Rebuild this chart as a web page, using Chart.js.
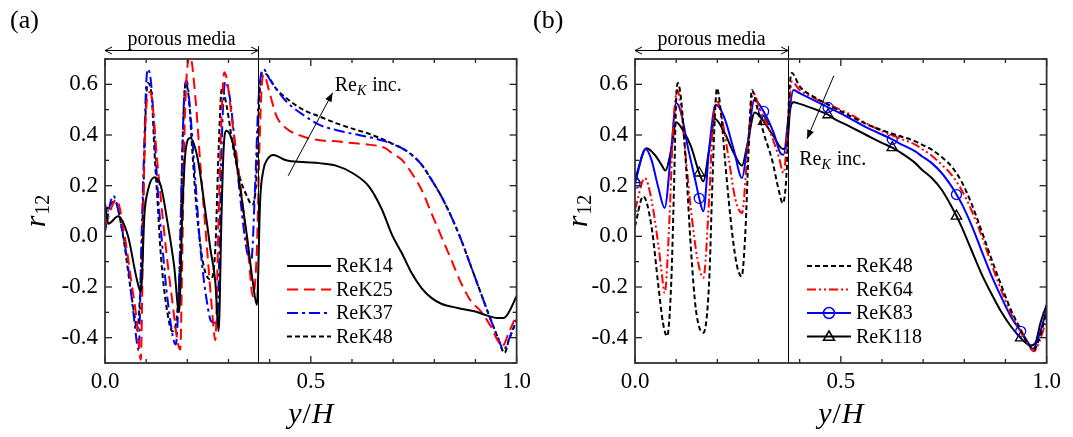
<!DOCTYPE html>
<html><head><meta charset="utf-8">
<script src="https://cdn.jsdelivr.net/npm/chart.js@4/dist/chart.umd.min.js"></script>
<style>
html,body{margin:0;padding:0;background:#fff;}
#wrap{position:relative;width:1073px;height:437px;overflow:hidden;background:#fff;}
canvas{position:absolute;top:0;}
</style></head><body>
<div id="wrap">
<canvas id="ca" width="536" height="437" style="left:0px"></canvas>
<canvas id="cb" width="536" height="437" style="left:530px"></canvas>
</div>
<script>
// ---------- data (y/H, r12) ----------
const xTicks = [0, 0.5, 1.0];
const yTicks = [-0.4, -0.2, 0.0, 0.2, 0.4, 0.6];
const INTERFACE_X = 0.372;
const MARK_X = [0, 0.156, 0.3125, 0.469, 0.625, 0.781, 0.937];

// panel (a)
const a_ReK14 = [[0,0.13],[0.008,0.05],[0.032,0.079],[0.056,0.0],[0.076,-0.16],[0.087,-0.22],[0.096,0.09],[0.104,0.18],[0.12,0.233],[0.136,0.197],[0.152,0.053],[0.168,-0.118],[0.18,-0.30],[0.188,0.105],[0.196,0.34],[0.207,0.388],[0.224,0.316],[0.24,0.145],[0.256,-0.05],[0.268,-0.18],[0.276,-0.375],[0.283,0.08],[0.288,0.34],[0.295,0.417],[0.3125,0.355],[0.329,0.184],[0.345,0.0],[0.359,-0.18],[0.369,-0.27],[0.377,0.145],[0.385,0.263],[0.393,0.30],[0.409,0.321],[0.44,0.30],[0.481,0.293],[0.521,0.289],[0.561,0.279],[0.601,0.25],[0.641,0.197],[0.673,0.105],[0.697,0.007],[0.721,-0.066],[0.745,-0.145],[0.769,-0.204],[0.793,-0.243],[0.817,-0.266],[0.857,-0.283],[0.897,-0.296],[0.929,-0.313],[0.953,-0.322],[0.969,-0.322],[0.981,-0.30],[1.0,-0.235]];
const a_ReK25 = [[0,0.04],[0.028,0.145],[0.048,0.0],[0.064,-0.18],[0.076,-0.316],[0.087,-0.487],[0.092,-0.05],[0.096,0.34],[0.103,0.55],[0.11,0.57],[0.128,0.276],[0.144,0.013],[0.16,-0.21],[0.183,-0.447],[0.188,-0.05],[0.194,0.47],[0.207,0.71],[0.22,0.54],[0.232,0.276],[0.248,-0.05],[0.26,-0.29],[0.268,-0.41],[0.276,0.08],[0.283,0.47],[0.29,0.648],[0.3125,0.41],[0.333,0.145],[0.349,-0.08],[0.359,-0.237],[0.369,-0.05],[0.375,0.34],[0.381,0.6],[0.386,0.638],[0.4,0.565],[0.417,0.473],[0.44,0.427],[0.481,0.394],[0.521,0.379],[0.561,0.375],[0.601,0.368],[0.641,0.362],[0.681,0.348],[0.697,0.329],[0.721,0.302],[0.745,0.25],[0.769,0.184],[0.793,0.092],[0.817,0.0],[0.841,-0.092],[0.865,-0.184],[0.889,-0.256],[0.913,-0.296],[0.937,-0.355],[0.953,-0.408],[0.965,-0.434],[0.981,-0.38],[1.0,-0.31]];
const a_ReK37 = [[0,0.02],[0.02,0.16],[0.04,0.04],[0.056,-0.118],[0.07,-0.316],[0.082,-0.45],[0.088,-0.05],[0.095,0.34],[0.1,0.6],[0.104,0.66],[0.112,0.605],[0.12,0.41],[0.128,0.184],[0.14,-0.05],[0.152,-0.25],[0.172,-0.427],[0.18,-0.18],[0.186,0.21],[0.192,0.54],[0.198,0.615],[0.208,0.473],[0.22,0.21],[0.232,-0.05],[0.248,-0.263],[0.258,-0.335],[0.272,-0.342],[0.278,-0.05],[0.283,0.34],[0.292,0.61],[0.304,0.54],[0.317,0.34],[0.329,0.145],[0.345,-0.06],[0.355,-0.1],[0.365,0.21],[0.373,0.54],[0.385,0.66],[0.4,0.62],[0.417,0.58],[0.44,0.533],[0.481,0.48],[0.521,0.44],[0.561,0.42],[0.601,0.405],[0.641,0.392],[0.681,0.375],[0.697,0.366],[0.721,0.348],[0.745,0.322],[0.769,0.283],[0.793,0.224],[0.817,0.158],[0.841,0.079],[0.865,-0.013],[0.889,-0.118],[0.913,-0.224],[0.937,-0.329],[0.953,-0.394],[0.969,-0.447],[0.981,-0.408],[1.0,-0.33]];
const a_ReK48 = [[0,0.1],[0.024,0.138],[0.044,0.0],[0.06,-0.184],[0.072,-0.316],[0.078,-0.37],[0.088,-0.118],[0.095,0.276],[0.1,0.54],[0.104,0.605],[0.114,0.54],[0.12,0.34],[0.128,0.13],[0.136,-0.08],[0.148,-0.263],[0.164,-0.375],[0.176,-0.29],[0.183,-0.05],[0.188,0.34],[0.196,0.605],[0.204,0.54],[0.212,0.34],[0.224,0.079],[0.24,-0.118],[0.256,-0.17],[0.268,-0.05],[0.276,0.34],[0.284,0.585],[0.296,0.51],[0.3125,0.34],[0.329,0.224],[0.345,0.158],[0.357,0.125],[0.367,0.21],[0.373,0.473],[0.38,0.64],[0.386,0.645],[0.417,0.58],[0.44,0.546],[0.481,0.5],[0.521,0.473],[0.561,0.447],[0.601,0.425],[0.641,0.405],[0.681,0.379],[0.697,0.366],[0.721,0.348],[0.745,0.322],[0.769,0.283],[0.793,0.224],[0.817,0.158],[0.841,0.079],[0.865,-0.013],[0.889,-0.118],[0.913,-0.224],[0.937,-0.329],[0.953,-0.394],[0.971,-0.46],[0.981,-0.41],[1.0,-0.33]];

// panel (b)
const b_ReK48 = [[0,0.04],[0.02,0.158],[0.04,0.04],[0.056,-0.184],[0.068,-0.342],[0.078,-0.394],[0.088,-0.184],[0.095,0.21],[0.1,0.54],[0.104,0.605],[0.112,0.54],[0.124,0.276],[0.136,-0.053],[0.148,-0.29],[0.166,-0.381],[0.18,-0.184],[0.188,0.21],[0.194,0.473],[0.199,0.585],[0.208,0.5],[0.22,0.276],[0.236,0.013],[0.248,-0.118],[0.259,-0.158],[0.268,0.013],[0.276,0.342],[0.284,0.578],[0.296,0.513],[0.3125,0.408],[0.333,0.302],[0.349,0.184],[0.359,0.131],[0.369,0.276],[0.374,0.54],[0.381,0.645],[0.4,0.592],[0.44,0.546],[0.481,0.51],[0.521,0.476],[0.561,0.444],[0.601,0.418],[0.641,0.397],[0.681,0.375],[0.697,0.362],[0.721,0.342],[0.745,0.313],[0.769,0.276],[0.793,0.217],[0.817,0.131],[0.841,0.026],[0.865,-0.085],[0.889,-0.19],[0.913,-0.289],[0.937,-0.368],[0.953,-0.418],[0.969,-0.447],[0.981,-0.408],[1.0,-0.3]];
const b_ReK64 = [[0,0.105],[0.024,0.23],[0.04,0.145],[0.056,-0.026],[0.064,-0.131],[0.072,-0.224],[0.084,0.079],[0.092,0.408],[0.103,0.578],[0.112,0.5],[0.124,0.302],[0.136,0.105],[0.152,-0.092],[0.166,-0.164],[0.18,0.145],[0.188,0.408],[0.198,0.539],[0.212,0.46],[0.228,0.302],[0.244,0.145],[0.26,0.092],[0.272,0.302],[0.287,0.565],[0.304,0.5],[0.329,0.408],[0.349,0.316],[0.361,0.25],[0.373,0.473],[0.381,0.611],[0.4,0.578],[0.44,0.542],[0.481,0.513],[0.521,0.483],[0.561,0.447],[0.601,0.414],[0.641,0.388],[0.681,0.362],[0.697,0.345],[0.721,0.318],[0.745,0.283],[0.769,0.243],[0.793,0.184],[0.817,0.105],[0.841,0.007],[0.865,-0.105],[0.889,-0.21],[0.913,-0.302],[0.937,-0.375],[0.953,-0.421],[0.969,-0.454],[0.981,-0.421],[1.0,-0.33]];
const b_ReK83 = [[0,0.21],[0.026,0.345],[0.04,0.302],[0.056,0.197],[0.072,0.112],[0.088,0.342],[0.1,0.526],[0.112,0.487],[0.128,0.355],[0.148,0.21],[0.156,0.15],[0.166,0.099],[0.18,0.342],[0.196,0.519],[0.216,0.473],[0.24,0.342],[0.26,0.23],[0.272,0.342],[0.29,0.539],[0.3125,0.493],[0.337,0.408],[0.353,0.329],[0.361,0.322],[0.373,0.473],[0.385,0.578],[0.4,0.565],[0.44,0.533],[0.469,0.509],[0.481,0.5],[0.521,0.467],[0.561,0.431],[0.601,0.401],[0.625,0.383],[0.641,0.368],[0.681,0.335],[0.697,0.316],[0.721,0.289],[0.745,0.25],[0.769,0.197],[0.781,0.165],[0.793,0.131],[0.817,0.046],[0.841,-0.053],[0.865,-0.151],[0.889,-0.237],[0.913,-0.316],[0.937,-0.375],[0.953,-0.414],[0.967,-0.444],[0.981,-0.394],[1.0,-0.29]];
const b_ReK118 = [[0,0.224],[0.028,0.348],[0.048,0.322],[0.064,0.283],[0.074,0.26],[0.088,0.342],[0.1,0.45],[0.116,0.42],[0.136,0.355],[0.156,0.25],[0.166,0.217],[0.18,0.342],[0.194,0.463],[0.216,0.414],[0.24,0.329],[0.26,0.279],[0.272,0.355],[0.291,0.489],[0.3125,0.454],[0.337,0.394],[0.359,0.345],[0.369,0.355],[0.377,0.5],[0.385,0.529],[0.4,0.523],[0.44,0.5],[0.469,0.48],[0.481,0.467],[0.521,0.434],[0.561,0.401],[0.601,0.368],[0.625,0.35],[0.641,0.335],[0.681,0.289],[0.697,0.263],[0.721,0.23],[0.745,0.184],[0.769,0.118],[0.781,0.08],[0.793,0.039],[0.817,-0.053],[0.841,-0.145],[0.865,-0.224],[0.889,-0.296],[0.913,-0.355],[0.937,-0.401],[0.961,-0.431],[0.973,-0.42],[0.985,-0.342],[1.0,-0.27]];

// ---------- drawing ----------
const FONT = '"Liberation Serif"';

function line(ctx, x1, y1, x2, y2) { ctx.beginPath(); ctx.moveTo(x1, y1); ctx.lineTo(x2, y2); ctx.stroke(); }

function filledHead(ctx, x1, y1, x2, y2, len, half) {
  const ang = Math.atan2(y2 - y1, x2 - x1);
  ctx.beginPath();
  ctx.moveTo(x2, y2);
  ctx.lineTo(x2 - len * Math.cos(ang) + half * Math.sin(ang), y2 - len * Math.sin(ang) - half * Math.cos(ang));
  ctx.lineTo(x2 - len * Math.cos(ang) - half * Math.sin(ang), y2 - len * Math.sin(ang) + half * Math.cos(ang));
  ctx.closePath(); ctx.fill();
}
function openHead(ctx, x1, y1, x2, y2, len, half) {
  const ang = Math.atan2(y2 - y1, x2 - x1);
  ctx.beginPath();
  ctx.moveTo(x2 - len * Math.cos(ang) + half * Math.sin(ang), y2 - len * Math.sin(ang) - half * Math.cos(ang));
  ctx.lineTo(x2, y2);
  ctx.lineTo(x2 - len * Math.cos(ang) - half * Math.sin(ang), y2 - len * Math.sin(ang) + half * Math.cos(ang));
  ctx.stroke();
}
function drawMarker(ctx, style, x, y, r, color) {
  ctx.save(); ctx.strokeStyle = color; ctx.lineWidth = 1.5; ctx.setLineDash([]);
  ctx.beginPath();
  if (style === 'circle') { ctx.arc(x, y, r, 0, Math.PI * 2); }
  else if (style === 'triangle') {
    ctx.moveTo(x, y - r); ctx.lineTo(x + r, y + r * 0.7); ctx.lineTo(x - r, y + r * 0.7); ctx.closePath();
  }
  ctx.stroke(); ctx.restore();
}

function decor(opts) {
  return {
    id: 'decor_' + opts.tag,
    afterDatasetsDraw(chart) {
      const ctx = chart.ctx, A = chart.chartArea, xs = chart.scales.x, ys = chart.scales.y;
      ctx.save();
      const xi = xs.getPixelForValue(INTERFACE_X);
      ctx.strokeStyle = '#000'; ctx.lineWidth = 1; ctx.setLineDash([]);
      line(ctx, Math.round(xi) + 0.5, A.top - 13, Math.round(xi) + 0.5, A.bottom);
      ctx.strokeStyle = '#222'; ctx.lineWidth = 1.3;
      for (let i = 0; i <= 10; i++) {
        const px = xs.getPixelForValue(i / 10), L = (i % 5 === 0) ? 7 : 4;
        line(ctx, px, A.bottom, px, A.bottom - L); line(ctx, px, A.top, px, A.top + L);
      }
      for (let i = -5; i <= 7; i++) {
        const py = ys.getPixelForValue(i / 10), L = (i % 2 === 0) ? 7 : 4;
        line(ctx, A.left, py, A.left + L, py); line(ctx, A.right, py, A.right - L, py);
      }
      ctx.lineWidth = 1.8; ctx.strokeStyle = '#333';
      ctx.strokeRect(A.left, A.top, A.right - A.left, A.bottom - A.top);

      const x0 = xs.getPixelForValue(0);
      ctx.strokeStyle = '#000'; ctx.lineWidth = 1;
      const ay = A.top - 8.5;
      line(ctx, x0, ay, xi, ay);
      openHead(ctx, xi, ay, x0, ay, 7, 3.5);
      openHead(ctx, x0, ay, xi, ay, 7, 3.5);
      ctx.fillStyle = '#000'; ctx.font = '20px ' + FONT; ctx.textAlign = 'center'; ctx.textBaseline = 'alphabetic';
      ctx.fillText('porous media', (x0 + xi) / 2, A.top - 14);

      ctx.font = '26px ' + FONT; ctx.textAlign = 'left';
      ctx.fillText(opts.panel, opts.panelX, 28);

      const cx = (A.left + A.right) / 2;
      ctx.font = 'italic 30px ' + FONT;
      const wy = ctx.measureText('y').width, wH = ctx.measureText('H').width;
      ctx.font = '30px ' + FONT; const ws = ctx.measureText('/').width;
      const tot = wy + ws + wH + 2;
      let tx = cx - tot / 2;
      ctx.font = 'italic 30px ' + FONT; ctx.fillText('y', tx, 423); tx += wy + 1;
      ctx.font = '30px ' + FONT; ctx.fillText('/', tx, 423); tx += ws + 1;
      ctx.font = 'italic 30px ' + FONT; ctx.fillText('H', tx, 423);

      ctx.save();
      ctx.translate(opts.yTitleX, (A.top + A.bottom) / 2);
      ctx.rotate(-Math.PI / 2);
      ctx.font = 'italic 30px ' + FONT; const wr = ctx.measureText('r').width;
      ctx.font = '20px ' + FONT; const w12 = ctx.measureText('12').width;
      let rx = -(wr + w12 + 1) / 2;
      ctx.font = 'italic 30px ' + FONT; ctx.fillText('r', rx, 0);
      ctx.font = '20px ' + FONT; ctx.fillText('12', rx + wr + 1, 4);
      ctx.restore();

      chart.data.datasets.forEach((ds, i) => {
        const ly = A.top + opts.legY + i * 23.5;
        const lx0 = A.left + opts.legX, lx1 = lx0 + 44;
        ctx.save();
        ctx.strokeStyle = ds.borderColor; ctx.lineWidth = 2; ctx.setLineDash(ds.borderDash || []);
        line(ctx, lx0, ly, lx1, ly);
        ctx.restore();
        if (ds.legendMarker) drawMarker(ctx, ds.legendMarker, (lx0 + lx1) / 2, ly, 5.5, ds.borderColor);
        ctx.fillStyle = '#000'; ctx.font = '20px ' + FONT; ctx.textAlign = 'left'; ctx.textBaseline = 'middle';
        ctx.fillText(ds.label, lx1 + 5, ly + 1);
      });

      const t = xs.getPixelForValue(opts.arrow[0]), tyy = ys.getPixelForValue(opts.arrow[1]);
      const h = xs.getPixelForValue(opts.arrow[2]), hy = ys.getPixelForValue(opts.arrow[3]);
      ctx.strokeStyle = '#000'; ctx.fillStyle = '#000'; ctx.lineWidth = 1; ctx.setLineDash([]);
      line(ctx, t, tyy, h, hy);
      filledHead(ctx, t, tyy, h, hy, 9, 3.5);
      const ax = xs.getPixelForValue(opts.text[0]), ayy = ys.getPixelForValue(opts.text[1]);
      ctx.textBaseline = 'alphabetic'; ctx.textAlign = 'left';
      ctx.font = '20px ' + FONT; ctx.fillText('Re', ax, ayy);
      let w = ctx.measureText('Re').width;
      ctx.font = 'italic 14px ' + FONT; ctx.fillText('K', ax + w, ayy + 4);
      w += ctx.measureText('K').width + 1;
      ctx.font = '20px ' + FONT; ctx.fillText(' inc.', ax + w, ayy);
      ctx.restore();
    }
  };
}

function makePanel(id, opts) {
  const datasets = opts.series.map(s => ({
    label: s.label,
    data: s.pts.map(p => ({ x: p[0], y: p[1] })),
    borderColor: s.color,
    borderWidth: 2,
    borderDash: s.dash || [],
    cubicInterpolationMode: 'monotone',
    fill: false,
    legendMarker: s.marker || null,
    pointStyle: s.marker || 'circle',
    pointRadius: s.marker ? (c => (c.type === 'data' && c.raw && MARK_X.includes(c.raw.x)) ? (s.marker === 'triangle' ? 6 : 5) : 0) : 0,
    pointBorderColor: s.color,
    pointBackgroundColor: 'rgba(0,0,0,0)',
    pointBorderWidth: 1.3
  }));
  return new Chart(document.getElementById(id), {
    type: 'line',
    data: { datasets },
    options: {
      responsive: false, animation: false, events: [],
      layout: { padding: { left: 0, right: 15, top: 59, bottom: 0 } },
      plugins: { legend: { display: false }, tooltip: { enabled: false } },
      scales: {
        x: {
          type: 'linear', min: 0, max: 1,
          afterBuildTicks: ax => { ax.ticks = xTicks.map(v => ({ value: v })); },
          afterFit: ax => { ax.height = 74; },
          grid: { display: false, drawTicks: false }, border: { display: false },
          ticks: { font: { family: FONT, size: 23 }, color: '#000', padding: 5, maxRotation: 0, autoSkip: false, callback: v => Number(v).toFixed(1) }
        },
        y: {
          type: 'linear', min: -0.5, max: 0.7,
          afterBuildTicks: ax => { ax.ticks = yTicks.map(v => ({ value: v })); },
          afterFit: ax => { ax.width = 105; },
          grid: { display: false, drawTicks: false }, border: { display: false },
          ticks: { font: { family: FONT, size: 23 }, color: '#000', padding: 7, autoSkip: false, callback: v => Number(v).toFixed(1) }
        }
      }
    },
    plugins: [decor(opts)]
  });
}

makePanel('ca', {
  tag: 'a', panel: '(a)', panelX: 10, yTitleX: 45,
  legX: 182, legY: 207,
  arrow: [0.445, 0.239, 0.553, 0.567], text: [0.558, 0.575],
  series: [
    { label: 'ReK14', pts: a_ReK14, color: '#000000' },
    { label: 'ReK25', pts: a_ReK25, color: '#ff0000', dash: [11, 6] },
    { label: 'ReK37', pts: a_ReK37, color: '#0000ff', dash: [11, 4, 3, 4] },
    { label: 'ReK48', pts: a_ReK48, color: '#000000', dash: [5, 3] }
  ]
});
makePanel('cb', {
  tag: 'b', panel: '(b)', panelX: 3, yTitleX: 57,
  legX: 172, legY: 207,
  arrow: [0.483, 0.634, 0.418, 0.385], text: [0.399, 0.28],
  series: [
    { label: 'ReK48', pts: b_ReK48, color: '#000000', dash: [5, 3] },
    { label: 'ReK64', pts: b_ReK64, color: '#ff0000', dash: [9, 3, 2, 3, 2, 3] },
    { label: 'ReK83', pts: b_ReK83, color: '#0000ff', marker: 'circle' },
    { label: 'ReK118', pts: b_ReK118, color: '#000000', marker: 'triangle' }
  ]
});
</script>
</body></html>
